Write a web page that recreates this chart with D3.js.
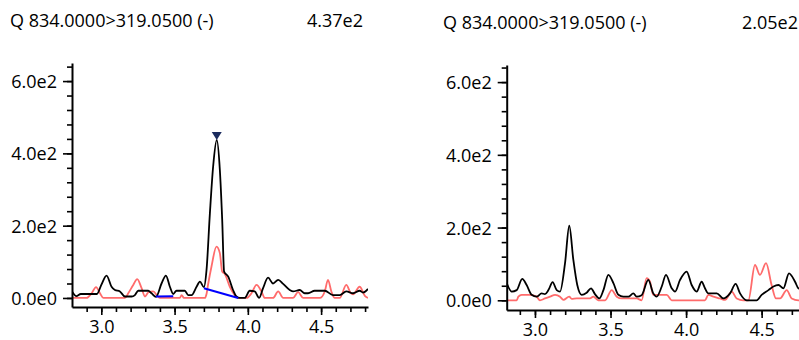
<!DOCTYPE html>
<html>
<head>
<meta charset="utf-8">
<script src="https://cdn.jsdelivr.net/npm/d3@7"></script>
<style>
  body { margin: 0; background: #fff; }
  svg text { font-family: "Segoe UI", "Open Sans", sans-serif; fill: #000; }
</style>
</head>
<body>
<div id="chart"></div>
<script>
// trace title shared by both panels
const traceTitle = 'Q 834.0000>319.0500 (-)';

// left panel: [time, intensity]
const leftBlack = [[2.80, 18], [2.83, 5], [2.86, 11], [2.97, 11], [3.00, 36], [3.036, 62], [3.07, 31], [3.093, 22],
  [3.127, 18], [3.161, 4], [3.207, 4], [3.229, 8], [3.252, 20], [3.32, 20], [3.343, 13], [3.373, 3], [3.411, 40],
  [3.441, 62], [3.468, 31], [3.491, 11], [3.513, 20], [3.57, 20], [3.593, 8], [3.616, 8], [3.65, 31], [3.673, 45],
  [3.70, 30], [3.718, 77], [3.741, 234], [3.763, 363], [3.788, 437], [3.809, 354], [3.825, 216], [3.838, 73],
  [3.866, 59], [3.899, 22], [3.922, 4], [3.945, 0], [3.979, 0], [4.013, 20], [4.047, 18], [4.077, 0], [4.104, 27],
  [4.138, 56], [4.172, 40], [4.207, 50], [4.241, 39], [4.286, 22], [4.309, 18], [4.354, 22], [4.388, 13], [4.411, 13],
  [4.456, 20], [4.525, 20], [4.581, 8], [4.627, 8], [4.672, 18], [4.718, 13], [4.763, 20], [4.786, 15], [4.82, 25]];

const leftRed = [[2.80, 0], [2.90, 0], [2.934, 13], [2.964, 30], [2.991, 13], [3.014, 0], [3.161, 0], [3.184, 13],
  [3.218, 36], [3.245, 52], [3.275, 27], [3.298, 4], [3.32, 15], [3.354, 18], [3.384, 5], [3.40, 0], [3.536, 0],
  [3.548, 8], [3.564, 0], [3.707, 0], [3.718, 11], [3.729, 38], [3.752, 87], [3.786, 142], [3.809, 124], [3.825, 73],
  [3.843, 66], [3.877, 31], [3.911, 8], [3.934, 0], [3.991, 0], [4.025, 13], [4.059, 36], [4.093, 18], [4.116, 0],
  [4.172, 0], [4.207, 18], [4.241, 0], [4.309, 0], [4.343, 16], [4.377, 0], [4.491, 0], [4.525, 18], [4.547, 50],
  [4.57, 18], [4.593, 0], [4.627, 0], [4.672, 36], [4.70, 15], [4.718, 10], [4.763, 31], [4.80, 5], [4.82, 0]];

// integration baselines of the left panel
const leftBaselines = [
  [[3.373, 4], [3.491, 5]],
  [[3.70, 27], [3.934, 0]]
];

// right panel: [time, intensity]
const rightBlack = [[2.813, 47], [2.846, 24], [2.879, 28], [2.916, 59], [2.945, 42], [2.978, 15], [3.011, 10],
  [3.044, 19], [3.066, 17], [3.089, 28], [3.117, 50], [3.144, 28], [3.166, 24], [3.199, 102], [3.227, 205],
  [3.254, 111], [3.28, 42], [3.309, 15], [3.342, 21], [3.371, 33], [3.397, 17], [3.426, 5], [3.453, 28], [3.486, 70],
  [3.519, 47], [3.552, 15], [3.585, 10], [3.618, 10], [3.651, 19], [3.673, 10], [3.706, 14], [3.75, 56], [3.783, 19],
  [3.805, 10], [3.839, 38], [3.867, 70], [3.905, 33], [3.927, 24], [3.96, 56], [4.004, 79], [4.037, 42], [4.07, 24],
  [4.103, 51], [4.125, 33], [4.147, 19], [4.203, 19], [4.247, 5], [4.291, 19], [4.328, 45], [4.357, 19], [4.401, 0],
  [4.467, 0], [4.50, 15], [4.545, 28], [4.578, 38], [4.611, 42], [4.644, 33], [4.681, 74], [4.721, 51], [4.743, 33],
  [4.765, 30], [4.82, 30]];

const rightRed = [[2.813, 0], [2.879, 0], [2.89, 10], [2.912, 15], [2.967, 15], [3.011, 10], [3.033, 0], [3.066, 5],
  [3.10, 10], [3.133, 15], [3.166, 10], [3.188, 1], [3.227, 10], [3.243, 4], [3.276, 5], [3.364, 5], [3.386, 10],
  [3.419, 0], [3.464, 0], [3.508, 28], [3.541, 10], [3.574, 5], [3.673, 5], [3.706, 0], [3.739, 61], [3.761, 51],
  [3.783, 15], [3.828, 15], [3.872, 15], [3.905, 0], [4.125, 0], [4.147, 15], [4.181, 10], [4.225, 5], [4.258, 1],
  [4.302, 24], [4.335, 5], [4.379, 0], [4.412, 0], [4.456, 97], [4.489, 70], [4.529, 102], [4.566, 42], [4.595, 5],
  [4.622, 5], [4.666, 28], [4.699, 5], [4.743, 0], [4.82, 0]];

const yMajorTicks = [0, 200, 400, 600];
const yMinorTicks = d3.range(0, 641, 40);
const xMajorTicks = [3.0, 3.5, 4.0, 4.5];
const xMinorTicks = d3.range(29, 49).map(d => d / 10);

const width = 799;
const height = 340;

const svg = d3.select('#chart').append('svg').attr('width', width).attr('height', height);

const sci = (v, digits) => v.toExponential(digits).replace('e+', 'e');

function drawPanel(p, idx) {
  const x = d3.scaleLinear().domain(p.xDomain).range([p.left, p.right]);
  const y = d3.scaleLinear().domain(p.yDomain).range([p.bottom, p.top]);

  const g = svg.append('g');

  g.append('text')
    .attr('x', p.titleX)
    .attr('y', p.titleY)
    .attr('font-size', 18)
    .text(traceTitle);

  g.append('text')
    .attr('x', p.valueX)
    .attr('y', p.titleY)
    .attr('font-size', 18)
    .attr('text-anchor', 'end')
    .text(sci(d3.max(p.black, d => d[1]), 2));

  const clipId = 'clip' + idx;
  g.append('clipPath').attr('id', clipId)
    .append('rect')
    .attr('x', p.left).attr('y', p.top)
    .attr('width', p.right - p.left).attr('height', p.bottom - p.top);

  const line = d3.line()
    .x(d => x(d[0]))
    .y(d => y(d[1]))
    .curve(d3.curveMonotoneX);

  const plot = g.append('g').attr('clip-path', `url(#${clipId})`);

  plot.append('path')
    .datum(p.red)
    .attr('d', line)
    .attr('fill', 'none')
    .attr('stroke', '#ff6b6b')
    .attr('stroke-width', 1.8);

  plot.append('path')
    .datum(p.black)
    .attr('d', line)
    .attr('fill', 'none')
    .attr('stroke', '#000')
    .attr('stroke-width', 1.8);

  (p.baselines || []).forEach(b => {
    plot.append('path')
      .datum(b)
      .attr('d', d3.line().x(d => x(d[0])).y(d => y(d[1])))
      .attr('fill', 'none')
      .attr('stroke', '#0000ff')
      .attr('stroke-width', 2);
  });

  if (p.marker) {
    const top = p.black.reduce((a, b) => (b[1] > a[1] ? b : a));
    const mx = x(top[0]);
    const my = y(top[1]);
    g.append('path')
      .attr('d', `M${mx - 5},${my - 8} L${mx + 5},${my - 8} L${mx},${my} Z`)
      .attr('fill', '#1b2b5e');
  }

  // y axis
  g.append('g')
    .attr('transform', `translate(${p.left},0)`)
    .call(d3.axisLeft(y).tickValues(yMinorTicks).tickSize(5).tickSizeOuter(0).tickFormat(''))
    .call(a => a.selectAll('line').attr('stroke-width', 1.6))
    .call(a => a.select('.domain').attr('stroke-width', 2));

  g.append('g')
    .attr('transform', `translate(${p.left},0)`)
    .call(d3.axisLeft(y).tickValues(yMajorTicks).tickSize(9).tickPadding(6).tickSizeOuter(0)
      .tickFormat(v => sci(v, 1)))
    .call(a => a.select('.domain').remove())
    .call(a => a.selectAll('line').attr('stroke-width', 1.6))
    .call(a => a.selectAll('text').attr('font-size', 18).attr('font-family', null).attr('dy', '0.36em'));

  // x axis
  g.append('g')
    .attr('transform', `translate(0,${p.bottom})`)
    .call(d3.axisBottom(x).tickValues(xMinorTicks).tickSize(5).tickSizeOuter(0).tickFormat(''))
    .call(a => a.selectAll('line').attr('stroke-width', 1.6))
    .call(a => a.select('.domain').attr('stroke-width', 2));

  g.append('g')
    .attr('transform', `translate(0,${p.bottom})`)
    .call(d3.axisBottom(x).tickValues(xMajorTicks).tickSize(8).tickPadding(5).tickSizeOuter(0)
      .tickFormat(d3.format('.1f')))
    .call(a => a.select('.domain').remove())
    .call(a => a.selectAll('line').attr('stroke-width', 1.6))
    .call(a => a.selectAll('text').attr('font-size', 18).attr('font-family', null));
}

drawPanel({
  left: 72, right: 368, top: 63, bottom: 307,
  xDomain: [2.8, 4.82], yDomain: [-25, 650],
  titleX: 10, valueX: 363, titleY: 27,
  black: leftBlack, red: leftRed, baselines: leftBaselines, marker: true
}, 0);

drawPanel({
  left: 506.7, right: 810, top: 65, bottom: 310,
  xDomain: [2.813, 4.82], yDomain: [-26.7, 647],
  titleX: 443, valueX: 798, titleY: 29,
  black: rightBlack, red: rightRed
}, 1);
</script>
</body>
</html>
